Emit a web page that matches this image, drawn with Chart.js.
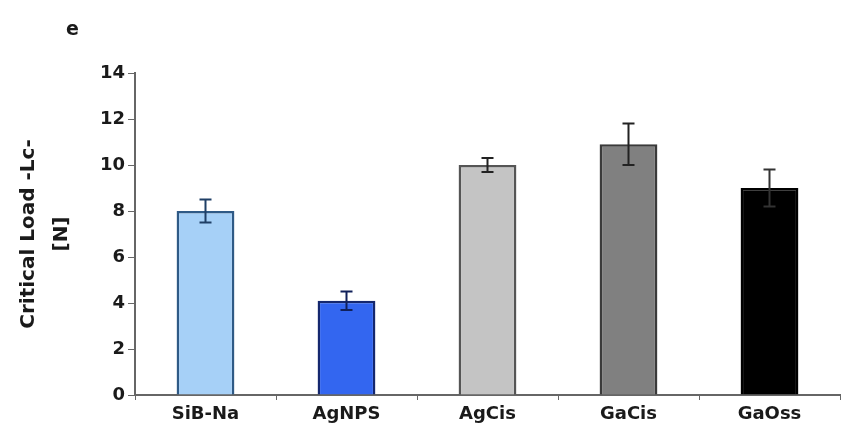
<!DOCTYPE html>
<html>
<head>
<meta charset="utf-8">
<script src="https://cdn.jsdelivr.net/npm/chart.js@4"></script>
<style>
  html, body { margin: 0; padding: 0; background: #fff; }
  #wrap { position: relative; width: 845px; height: 441px; }
  #panel { position: absolute; left: 66px; top: 17px; font: bold 19px "DejaVu Sans", Arial, sans-serif; color: #1a1a1a; }
</style>
</head>
<body>
<div id="wrap">
  <canvas id="loadChart" width="845" height="441"></canvas>
  <div id="panel">e</div>
</div>
<script>
// values
const samples = ['SiB-Na', 'AgNPS', 'AgCis', 'GaCis', 'GaOss'];
const criticalLoad = [8.0, 4.1, 10.0, 10.9, 9.0];
const loadError = [0.5, 0.4, 0.3, 0.9, 0.8];
const yTicks = [0, 2, 4, 6, 8, 10, 12, 14];

const fills = ['#a6d0f7', '#3366f0', '#c4c4c4', '#808080', '#000000'];
const edges = ['#2f5a86', '#14276e', '#555555', '#3a3a3a', '#000000'];
const whiskers = ['#1f3f66', '#10205a', '#222222', '#222222', '#333333'];

const font = 'DejaVu Sans';

// draws the +/- error bars on top of each bar
const errorBars = {
  id: 'errorBars',
  afterDatasetsDraw(chart) {
    const ctx = chart.ctx;
    const y = chart.scales.y;
    const meta = chart.getDatasetMeta(0);
    ctx.save();
    ctx.lineWidth = 2;
    meta.data.forEach((bar, i) => {
      const hi = y.getPixelForValue(criticalLoad[i] + loadError[i]);
      const lo = y.getPixelForValue(criticalLoad[i] - loadError[i]);
      ctx.strokeStyle = whiskers[i];
      ctx.beginPath();
      ctx.moveTo(bar.x, hi); ctx.lineTo(bar.x, lo);
      ctx.moveTo(bar.x - 6, hi); ctx.lineTo(bar.x + 6, hi);
      ctx.moveTo(bar.x - 6, lo); ctx.lineTo(bar.x + 6, lo);
      ctx.stroke();
    });
    ctx.restore();
  }
};

new Chart(document.getElementById('loadChart'), {
  type: 'bar',
  data: {
    labels: samples,
    datasets: [{
      data: criticalLoad,
      backgroundColor: fills,
      borderColor: edges,
      borderWidth: 2.5,
      categoryPercentage: 1,
      barPercentage: 0.41
    }]
  },
  options: {
    responsive: false,
    animation: false,
    layout: { padding: { top: 73, right: 5, left: 0, bottom: 0 } },
    plugins: { legend: { display: false }, tooltip: { enabled: false } },
    scales: {
      x: {
        afterFit: (s) => { s.height = 46; },
        grid: { offset: true, drawOnChartArea: false, tickLength: 5, color: '#666', lineWidth: 1 },
        border: { color: '#666', width: 2 },
        ticks: { color: '#1a1a1a', padding: 4, font: { family: font, size: 18, weight: 'bold' } }
      },
      y: {
        min: 0,
        max: 14,
        afterFit: (s) => { s.width = 135; },
        afterBuildTicks: (s) => { s.ticks = yTicks.map(v => ({ value: v })); },
        grid: { drawOnChartArea: false, tickLength: 7, color: '#666', lineWidth: 1 },
        border: { color: '#666', width: 2 },
        ticks: { color: '#1a1a1a', padding: 3, font: { family: font, size: 18, weight: 'bold' } },
        title: {
          display: true,
          text: ['Critical Load -Lc-', '[N]'],
          color: '#1a1a1a',
          font: { family: font, size: 20, weight: 'bold', lineHeight: 1.65 },
          padding: { top: 12, bottom: 0 }
        }
      }
    }
  },
  plugins: [errorBars]
});
</script>
</body>
</html>
